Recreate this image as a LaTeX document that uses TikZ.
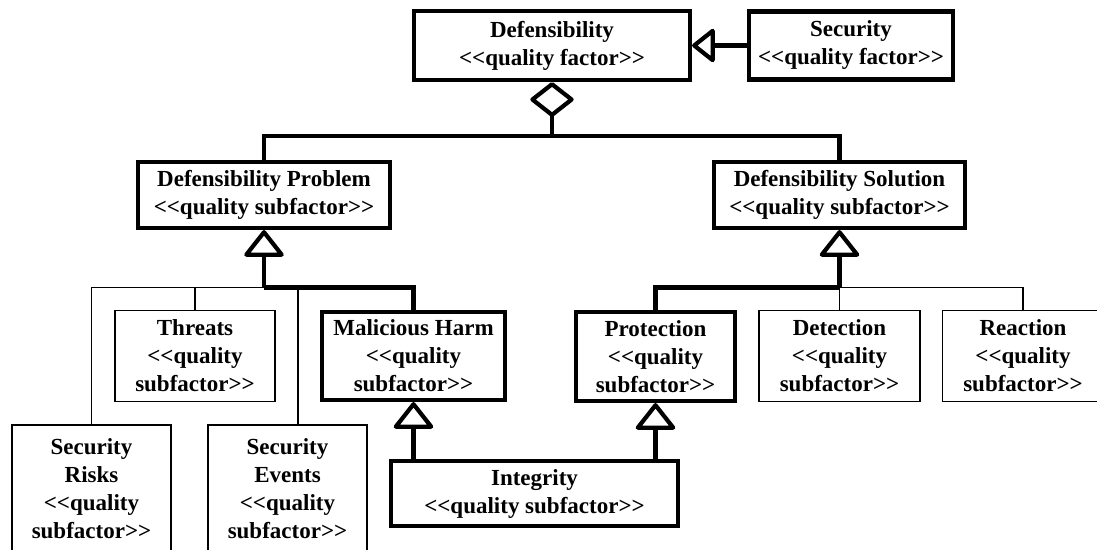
\documentclass[tikz,border=0pt]{standalone}
\usepackage{fontspec}
\newfontfamily\diagfont{Liberation Serif}
\usetikzlibrary{arrows.meta}

\tikzset{
  box/.style={draw, line width=4.2pt, fill=white, align=center, inner sep=0pt,
    font=\diagfont\bfseries\fontsize{23}{28}\selectfont},
  thinbox/.style={box, line width=1.5pt},
  link/.style={line width=4.2pt},
  thinlink/.style={line width=1.5pt},
  gen/.style={link, -{Triangle[open, round, length=28pt, width=43pt]}},
  gensmall/.style={link, -{Triangle[open, round, length=24pt, width=37pt]}},
  aggr/.style={link, {Diamond[open, round, length=36pt, width=46pt]}-},
}

\begin{document}
\begin{tikzpicture}[x=1pt, y=-1pt]
\useasboundingbox (0,0) rectangle (1097,549);
\begin{scope}
\clip (0,0) rectangle (1097,549);

% quality factors
\node[box, minimum width=276, minimum height=69] (def) at (552,45.5)
  {Defensibility\\<<quality factor>>};
\node[box, minimum width=204, minimum height=68] (sec) at (851,45.5)
  {Security\\<<quality factor>>};

% first-level subfactors
\node[box, minimum width=252, minimum height=66] (dp) at (264,195)
  {Defensibility Problem\\<<quality subfactor>>};
\node[box, minimum width=251, minimum height=66] (ds) at (839.5,195)
  {Defensibility Solution\\<<quality subfactor>>};

% second-level subfactors
\node[thinbox, minimum width=160, minimum height=91] (threats) at (195,356)
  {Threats\\<<quality\\subfactor>>};
\node[box, minimum width=183, minimum height=88] (mh) at (413.5,356)
  {Malicious Harm\\<<quality\\subfactor>>};
\node[box, minimum width=159, minimum height=89] (prot) at (655.5,356.5)
  {Protection\\<<quality\\subfactor>>};
\node[thinbox, minimum width=161, minimum height=91] (det) at (839.5,356)
  {Detection\\<<quality\\subfactor>>};
\node[thinbox, minimum width=161, minimum height=91] (react) at (1023,356)
  {Reaction\\<<quality\\subfactor>>};
\node[thinbox, minimum width=159, minimum height=128] (risks) at (91.5,489)
  {Security\\Risks\\<<quality\\subfactor>>};
\node[thinbox, minimum width=159, minimum height=128] (events) at (287.5,489)
  {Security\\Events\\<<quality\\subfactor>>};
\node[box, minimum width=287, minimum height=65] (integ) at (534.5,493.5)
  {Integrity\\<<quality subfactor>>};

% junction points
\coordinate (bus) at (552,136);
\coordinate (dpj) at (264,287.5);
\coordinate (dsj) at (839.5,287.5);

% Security specialises Defensibility
\draw[gensmall] (sec.west) -- (def.east);

% Defensibility aggregates problem and solution
\draw[aggr] (def.south) -- (bus);
\draw[link] (dp.north) |- (bus) -| (ds.north);

% problem side
\draw[thinlink] (risks.north) |- (dpj);
\draw[thinlink] (threats.north) -- (threats.north |- dpj);
\draw[thinlink] ([xshift=10.5pt]events.north) -- ([xshift=10.5pt]events.north |- dpj);
\draw[link] (mh.north) |- (dpj);
\draw[gen] (dpj) -- (dp.south);

% solution side
\draw[thinlink] (react.north) |- (dsj);
\draw[thinlink] (det.north) -- (dsj);
\draw[link] (prot.north) |- (dsj);
\draw[gen] (dsj) -- (ds.south);

% Integrity specialises both
\draw[gen] (integ.north -| mh.south) -- (mh.south);
\draw[gen] (integ.north -| prot.south) -- (prot.south);
\end{scope}
\end{tikzpicture}
\end{document}
